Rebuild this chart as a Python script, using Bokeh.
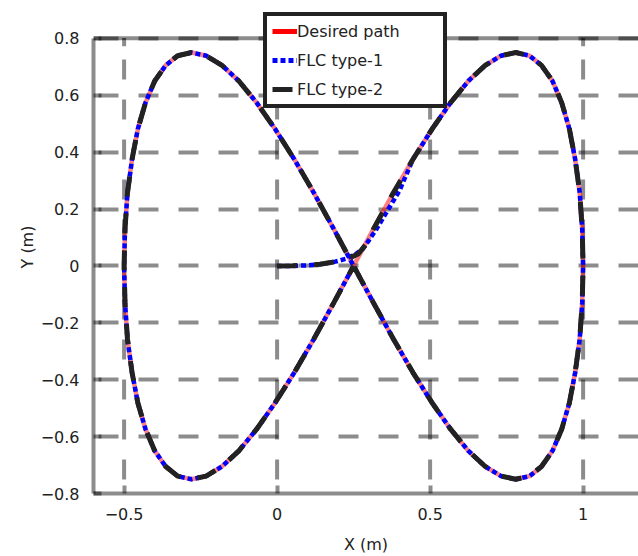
from math import pi, nan
from bokeh.plotting import figure
from bokeh.models import (Range1d, FixedTicker, CustomJSTickFormatter,
                          Legend, LegendItem, Span)
from bokeh.embed import file_html
from bokeh.resources import INLINE

# Desired figure-eight path (m)
x_desired = [0.250, 0.315, 0.380, 0.444, 0.507, 0.567, 0.625, 0.680, 0.732, 0.780,
             0.825, 0.864, 0.900, 0.930, 0.955, 0.974, 0.989, 0.997, 1.000,
             0.997, 0.989, 0.974, 0.955, 0.930, 0.900, 0.864, 0.825, 0.780,
             0.732, 0.680, 0.625, 0.567, 0.507, 0.444, 0.380, 0.315, 0.250,
             0.185, 0.120, 0.056, -0.007, -0.067, -0.125, -0.180, -0.232, -0.280,
             -0.325, -0.364, -0.400, -0.430, -0.455, -0.474, -0.489, -0.497, -0.500,
             -0.497, -0.489, -0.474, -0.455, -0.430, -0.400, -0.364, -0.325, -0.280,
             -0.232, -0.180, -0.125, -0.067, -0.007, 0.056, 0.120, 0.185, 0.250]
y_desired = [0.000, 0.130, 0.257, 0.375, 0.482, 0.574, 0.650, 0.705, 0.739, 0.750,
             0.739, 0.705, 0.650, 0.574, 0.482, 0.375, 0.257, 0.130, 0.000,
             -0.130, -0.257, -0.375, -0.482, -0.574, -0.650, -0.705, -0.739, -0.750,
             -0.739, -0.705, -0.650, -0.574, -0.482, -0.375, -0.257, -0.130, 0.000,
             0.130, 0.257, 0.375, 0.482, 0.574, 0.650, 0.705, 0.739, 0.750,
             0.739, 0.705, 0.650, 0.574, 0.482, 0.375, 0.257, 0.130, 0.000,
             -0.130, -0.257, -0.375, -0.482, -0.574, -0.650, -0.705, -0.739, -0.750,
             -0.739, -0.705, -0.650, -0.574, -0.482, -0.375, -0.257, -0.130, 0.000]

# Robot trajectory with the type-1 fuzzy controller (starts at the origin)
x_flc1 = [0.000, 0.050, 0.100, 0.150, 0.190, 0.225, 0.255, 0.280, 0.300, 0.325,
          0.350, 0.375, 0.400, 0.418, 0.444, 0.507, 0.567, 0.625, 0.680, 0.732, 0.780,
          0.825, 0.864, 0.900, 0.930, 0.955, 0.974, 0.989, 0.997, 1.000,
          0.997, 0.989, 0.974, 0.955, 0.930, 0.900, 0.864, 0.825, 0.780,
          0.732, 0.680, 0.625, 0.567, 0.507, 0.444, 0.380, 0.315, 0.250,
          0.185, 0.120, 0.056, -0.007, -0.067, -0.125, -0.180, -0.232, -0.280,
          -0.325, -0.364, -0.400, -0.430, -0.455, -0.474, -0.489, -0.497, -0.500,
          -0.497, -0.489, -0.474, -0.455, -0.430, -0.400, -0.364, -0.325, -0.280,
          -0.232, -0.180, -0.125, -0.067, -0.007, 0.056, 0.120, 0.185, 0.250]
y_flc1 = [0.000, 0.000, 0.002, 0.007, 0.015, 0.025, 0.040, 0.060, 0.090, 0.130,
          0.175, 0.220, 0.265, 0.310, 0.375, 0.482, 0.574, 0.650, 0.705, 0.739, 0.750,
          0.739, 0.705, 0.650, 0.574, 0.482, 0.375, 0.257, 0.130, 0.000,
          -0.130, -0.257, -0.375, -0.482, -0.574, -0.650, -0.705, -0.739, -0.750,
          -0.739, -0.705, -0.650, -0.574, -0.482, -0.375, -0.257, -0.130, 0.000,
          0.130, 0.257, 0.375, 0.482, 0.574, 0.650, 0.705, 0.739, 0.750,
          0.739, 0.705, 0.650, 0.574, 0.482, 0.375, 0.257, 0.130, 0.000,
          -0.130, -0.257, -0.375, -0.482, -0.574, -0.650, -0.705, -0.739, -0.750,
          -0.739, -0.705, -0.650, -0.574, -0.482, -0.375, -0.257, -0.130, 0.000]

# Robot trajectory with the type-2 fuzzy controller
x_flc2 = [0.000, 0.050, 0.100, 0.140, 0.180, 0.210, 0.240, 0.265, 0.290, 0.315,
          0.380, 0.444, 0.507, 0.567, 0.625, 0.680, 0.732, 0.780,
          0.825, 0.864, 0.900, 0.930, 0.955, 0.974, 0.989, 0.997, 1.000,
          0.997, 0.989, 0.974, 0.955, 0.930, 0.900, 0.864, 0.825, 0.780,
          0.732, 0.680, 0.625, 0.567, 0.507, 0.444, 0.380, 0.315, 0.250,
          0.185, 0.120, 0.056, -0.007, -0.067, -0.125, -0.180, -0.232, -0.280,
          -0.325, -0.364, -0.400, -0.430, -0.455, -0.474, -0.489, -0.497, -0.500,
          -0.497, -0.489, -0.474, -0.455, -0.430, -0.400, -0.364, -0.325, -0.280,
          -0.232, -0.180, -0.125, -0.067, -0.007, 0.056, 0.120, 0.185, 0.250]
y_flc2 = [0.000, 0.001, 0.003, 0.006, 0.013, 0.021, 0.030, 0.042, 0.075, 0.130,
          0.257, 0.375, 0.482, 0.574, 0.650, 0.705, 0.739, 0.750,
          0.739, 0.705, 0.650, 0.574, 0.482, 0.375, 0.257, 0.130, 0.000,
          -0.130, -0.257, -0.375, -0.482, -0.574, -0.650, -0.705, -0.739, -0.750,
          -0.739, -0.705, -0.650, -0.574, -0.482, -0.375, -0.257, -0.130, 0.000,
          0.130, 0.257, 0.375, 0.482, 0.574, 0.650, 0.705, 0.739, 0.750,
          0.739, 0.705, 0.650, 0.574, 0.482, 0.375, 0.257, 0.130, 0.000,
          -0.130, -0.257, -0.375, -0.482, -0.574, -0.650, -0.705, -0.739, -0.750,
          -0.739, -0.705, -0.650, -0.574, -0.482, -0.375, -0.257, -0.130, 0.000]

x_ticks = [-0.5, 0.0, 0.5, 1.0]
y_ticks = [-0.8, -0.6, -0.4, -0.2, 0.0, 0.2, 0.4, 0.6, 0.8]
legend_labels = ["Desired path", "FLC type-1", "FLC type-2"]

FONT = "DejaVu Sans"
TEXT = "#222222"
FRAME = "black"
FRAME_ALPHA = 0.45

# The plotting frame runs up to the top edge so that the legend box, which
# sits partly above the axes box, is not clipped; the axes box itself is
# bounded to y in [-0.8, 0.8].
p = figure(width=638, height=556, output_backend="svg", toolbar_location=None,
           x_range=Range1d(-0.6, 1.181), y_range=Range1d(-0.8, 0.933),
           min_border_left=93, min_border_right=0, min_border_top=0,
           min_border_bottom=60)
p.outline_line_color = None
p.background_fill_color = "white"
p.border_fill_color = "white"

fmt = CustomJSTickFormatter(code="""
const v = Math.round(tick * 10) / 10;
const s = (v === 0) ? '0' : String(v);
return s.replace('-', '\u2212');
""")

for ax in p.xaxis + p.yaxis:
    ax.axis_line_color = FRAME
    ax.axis_line_alpha = FRAME_ALPHA
    ax.axis_line_width = 4
    ax.major_tick_line_color = FRAME
    ax.major_tick_line_alpha = FRAME_ALPHA
    ax.major_tick_line_width = 4
    ax.major_tick_in = 8
    ax.major_tick_out = 0
    ax.minor_tick_line_color = None
    ax.major_label_text_font = FONT
    ax.major_label_text_font_size = "16px"
    ax.major_label_text_color = TEXT
    ax.axis_label_text_font = FONT
    ax.axis_label_text_font_size = "16px"
    ax.axis_label_text_font_style = "normal"
    ax.axis_label_text_color = TEXT
    ax.formatter = fmt

p.xaxis.ticker = FixedTicker(ticks=x_ticks)
p.yaxis.ticker = FixedTicker(ticks=y_ticks)
p.yaxis.bounds = (y_ticks[0], y_ticks[-1])
p.xaxis.axis_label = "X (m)"
p.yaxis.axis_label = "Y (m)"
p.xaxis.major_label_standoff = 14
p.xaxis.axis_label_standoff = 12
p.yaxis.major_label_standoff = 14
p.yaxis.axis_label_standoff = 1

# horizontal grid lines
p.ygrid.ticker = FixedTicker(ticks=y_ticks)
p.ygrid.grid_line_color = FRAME
p.ygrid.grid_line_alpha = FRAME_ALPHA
p.ygrid.grid_line_width = 4
p.ygrid.grid_line_dash = "20 20"
p.ygrid.grid_line_dash_offset = 35

# vertical grid lines, limited to the axes box
p.xgrid.visible = False
p.segment(x0=x_ticks, y0=[y_ticks[0]] * len(x_ticks),
          x1=x_ticks, y1=[y_ticks[-1]] * len(x_ticks),
          line_color=FRAME, line_alpha=FRAME_ALPHA, line_width=4,
          line_dash="20 20", line_dash_offset=26)

# top edge of the axes box with inward ticks
p.add_layout(Span(location=y_ticks[-1], dimension="width", line_color=FRAME,
                  line_alpha=FRAME_ALPHA, line_width=4))
p.ray(x=x_ticks, y=[y_ticks[-1]] * len(x_ticks), length=8, length_units="screen",
      angle=-pi / 2, line_color=FRAME, line_alpha=FRAME_ALPHA, line_width=4)

# trajectories
p.line(x_desired, y_desired, line_color="red", line_alpha=0.5, line_width=4.5)
p.line(x_flc1, y_flc1, line_color="blue", line_width=4.5, line_dash="5 3")
p.line(x_flc2, y_flc2, line_color="#222222", line_width=5, line_dash="20 17")

# legend samples
leg_red = p.line([nan], [nan], line_color="red", line_width=5)
leg_blue = p.line([nan], [nan], line_color="blue", line_width=5, line_dash="5 3")
leg_black = p.line([nan], [nan], line_color="#222222", line_width=5, line_dash="20 20")

legend = Legend(items=[LegendItem(label=legend_labels[0], renderers=[leg_red]),
                       LegendItem(label=legend_labels[1], renderers=[leg_blue]),
                       LegendItem(label=legend_labels[2], renderers=[leg_black])],
                location=(170, 385))
legend.border_line_color = "#222222"
legend.border_line_alpha = 1
legend.border_line_width = 4
legend.background_fill_color = "white"
legend.background_fill_alpha = 1
legend.label_text_font = FONT
legend.label_text_font_size = "16px"
legend.label_text_color = TEXT
legend.glyph_width = 25
legend.glyph_height = 20
legend.label_height = 20
legend.label_width = 141
legend.label_standoff = 0
legend.padding = 5
legend.spacing = 9
legend.margin = 0
p.add_layout(legend)

open("out.html", "w").write(file_html(p, INLINE))
